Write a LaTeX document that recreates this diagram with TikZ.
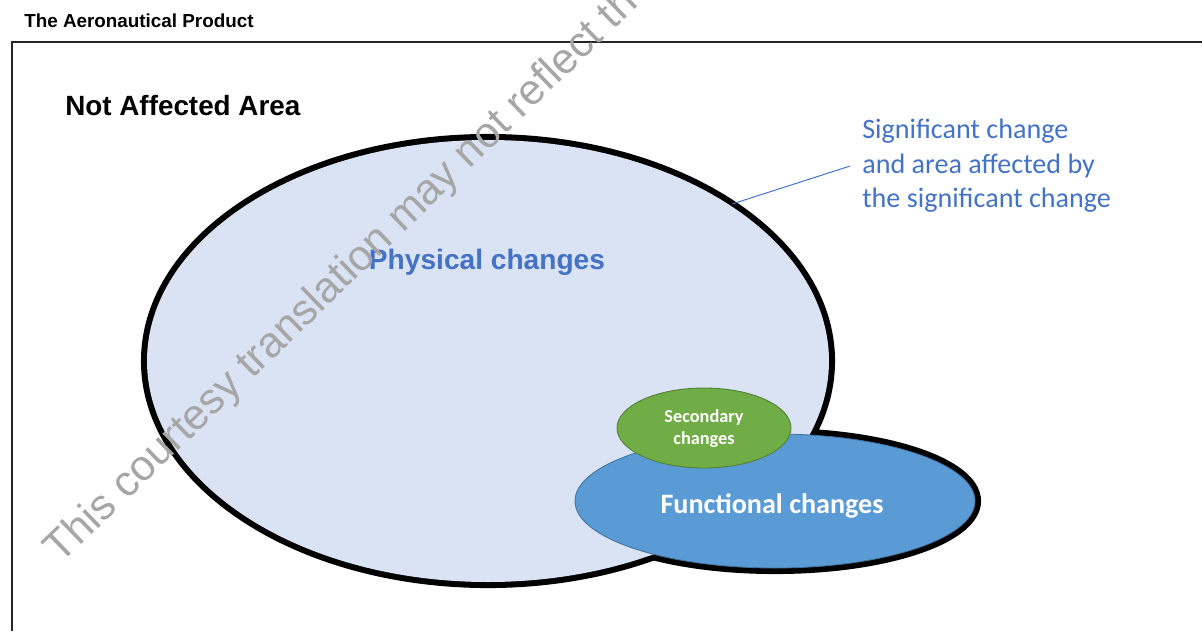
\documentclass[tikz,border=0pt]{standalone}
\usepackage{fontspec}
\setmainfont{Liberation Sans}
\newfontfamily\calibri{Carlito}
\usepackage{tikz}
\usetikzlibrary{calc}
\definecolor{physfill}{HTML}{DAE3F3}
\definecolor{funcfill}{HTML}{5B9BD5}
\definecolor{funcline}{HTML}{41719C}
\definecolor{secfill}{HTML}{70AD47}
\definecolor{secline}{HTML}{507E32}
\definecolor{accent}{HTML}{4472C4}
\definecolor{stampgray}{HTML}{A6A6A6}

\begin{document}
\begin{tikzpicture}[x=0.025cm,y=-0.025cm,
  rim/.style={line width=8.6pt,black},
  inlabel/.style={inner sep=0pt,text=white,font=\calibri\bfseries\fontsize{20}{24}\selectfont}]
\useasboundingbox (0,0) rectangle (1202,631);
\draw[line width=0.9pt,black!85] (1202,42) -- (12,42) -- (12,631);
\draw[rim] (488,361) ellipse [x radius=341,y radius=221];
\draw[rim] (775,501) ellipse [x radius=200,y radius=67];
\fill[physfill] (488,361) ellipse [x radius=341,y radius=221];
\filldraw[fill=funcfill,draw=funcline,line width=0.6pt] (775,501) ellipse [x radius=200,y radius=67];
\filldraw[fill=secfill,draw=secline,line width=0.6pt] (704,428) ellipse [x radius=87,y radius=40];
\node[anchor=base west,inner sep=0pt,font=\bfseries\fontsize{13.4}{16}\selectfont] (title) at (24,27) {The Aeronautical Product};
\node[anchor=base west,inner sep=0pt,font=\bfseries\fontsize{19.8}{24}\selectfont] (outside) at (65,115) {Not Affected Area};
\node[anchor=base,inner sep=0pt,text=accent,font=\bfseries\fontsize{20}{24}\selectfont] (phys) at (487,269) {Physical changes};
\node[inlabel,anchor=base] (func) at (772,513) {Functional changes};
\node[inlabel,align=center,font=\calibri\bfseries\fontsize{13}{15.8}\selectfont] (sec) at (704,429) {Secondary\\changes};
\node[anchor=north west,align=left,inner xsep=0.3cm,inner ysep=0pt,text=accent,font=\calibri\fontsize{20}{24.6}\selectfont] (sig) at (850,119) {Significant change\\and area affected by\\the significant change};
\coordinate (rimpt) at (732,204);
\draw[accent,line width=0.7pt] (sig.west) -- (rimpt);
\node[anchor=base west,rotate=44,inner sep=0pt,text=stampgray,font=\fontsize{30.5}{36}\selectfont] (stamp) at (60,565) {This courtesy translation may not reflect th};
\end{tikzpicture}
\end{document}
